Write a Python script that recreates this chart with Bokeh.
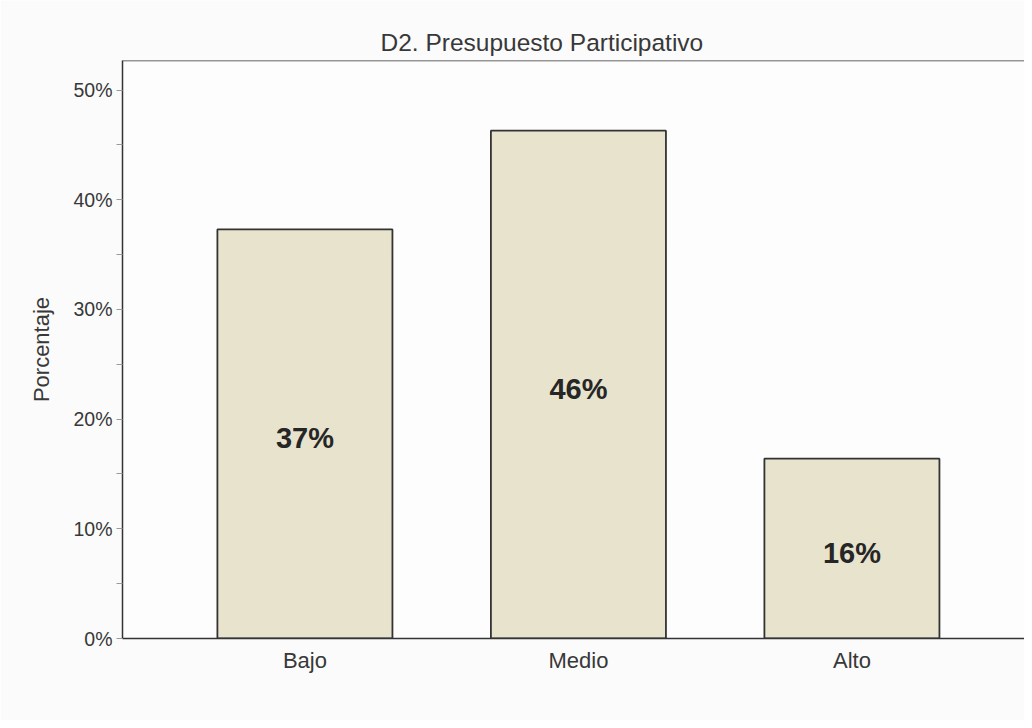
from bokeh.plotting import figure
from bokeh.models import (Range1d, SingleIntervalTicker, PrintfTickFormatter, FixedTicker,
                          ColumnDataSource, Span, Title)
from bokeh.core.properties import value
from bokeh.embed import file_html
from bokeh.resources import INLINE

categories = ["Bajo", "Medio", "Alto"]
percentages = [37.3, 46.3, 16.4]
bar_labels = ["37%", "46%", "16%"]
title_text = "D2. Presupuesto Participativo"
y_label = "Porcentaje"

FONT = "Liberation Sans"

x_idx = list(range(len(categories)))
src = ColumnDataSource(dict(x=x_idx, val=percentages, lab=bar_labels,
                            mid=[v / 2 for v in percentages]))

y_rng = Range1d(0, 52.7)
p = figure(width=1024, height=720, output_backend="svg", toolbar_location=None,
           x_range=Range1d(-0.667, 2.631), y_range=y_rng,
           min_border_left=122, min_border_right=0, min_border_top=60, min_border_bottom=82)

p.border_fill_color = "#fbfbfb"
p.background_fill_color = "#fdfdfd"
p.outline_line_color = None
p.xgrid.visible = False
p.ygrid.visible = False

p.vbar(x="x", top="val", width=0.64, source=src, fill_color="#e8e3cd",
       line_color="#333333", line_width=1.8)

p.text(x="x", y="mid", text="lab", source=src, text_font=value(FONT),
       text_font_style="bold", text_font_size="29px", text_color="#262626",
       text_align="center", text_baseline="middle", y_offset=4)

# top frame line at the end of the y range
p.add_layout(Span(location=y_rng.end, dimension="width", line_color="#333333", line_width=1.5))

# y axis
yax = p.yaxis[0]
yax.ticker = SingleIntervalTicker(interval=10, num_minor_ticks=2)
yax.formatter = PrintfTickFormatter(format="%d%%")
yax.major_tick_line_color = None
yax.major_tick_out = 0
yax.major_tick_in = 0
yax.minor_tick_line_color = "#9a9a9a"
yax.minor_tick_out = 6
yax.minor_tick_in = 0
yax.axis_line_color = "#333333"
yax.axis_line_width = 1.5
yax.major_label_text_font = FONT
yax.major_label_text_font_size = "19.5px"
yax.major_label_text_color = "#383838"
yax.major_label_standoff = 4
yax.axis_label = y_label
yax.axis_label_text_font = FONT
yax.axis_label_text_font_size = "22px"
yax.axis_label_text_font_style = "normal"
yax.axis_label_text_color = "#383838"
yax.axis_label_standoff = 16

# x axis
xax = p.xaxis[0]
xax.ticker = FixedTicker(ticks=x_idx)
xax.major_label_overrides = {i: c for i, c in zip(x_idx, categories)}
xax.major_tick_line_color = None
xax.major_tick_out = 0
xax.major_tick_in = 0
xax.minor_tick_line_color = None
xax.axis_line_color = "#333333"
xax.axis_line_width = 1.5
xax.major_label_text_font = FONT
xax.major_label_text_font_size = "22px"
xax.major_label_text_color = "#383838"
xax.major_label_standoff = 9

t = Title(text=title_text, text_font=FONT, text_font_size="24.5px",
          text_font_style="normal", text_color="#383838", align="left",
          offset=258, standoff=9)
p.add_layout(t, "above")

open("out.html", "w").write(file_html(p, INLINE))
